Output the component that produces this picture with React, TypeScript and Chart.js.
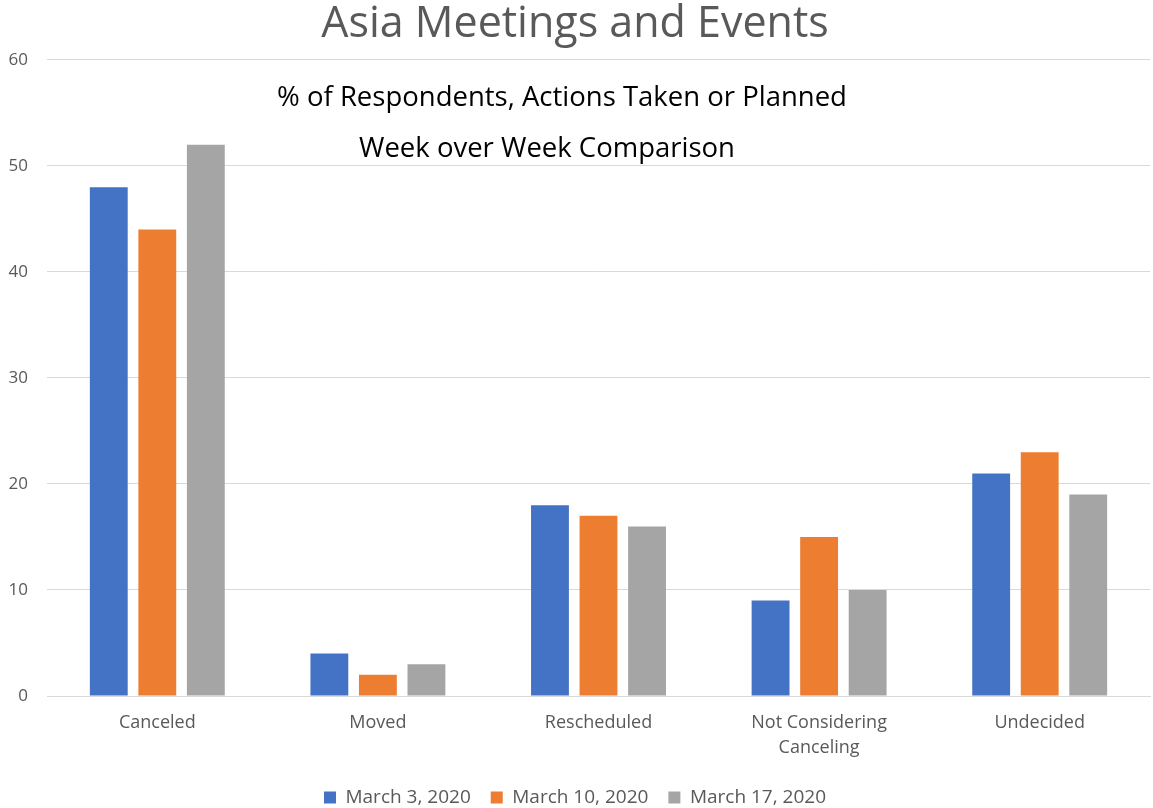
import React, { useEffect, useRef } from "react";
import { Chart, registerables } from "chart.js";

Chart.register(...registerables);

const categories: (string | string[])[] = [
  "Canceled",
  "Moved",
  "Rescheduled",
  ["Not Considering", "Canceling"],
  "Undecided",
];
const march3 = [48, 4, 18, 9, 21];
const march10 = [44, 2, 17, 15, 23];
const march17 = [52, 3, 16, 10, 19];
const seriesNames = ["March 3, 2020", "March 10, 2020", "March 17, 2020"];
const seriesColors = ["#4472C4", "#ED7D31", "#A5A5A5"];
const titleText = "Asia Meetings and Events";
const annotations = [
  "% of Respondents, Actions Taken or Planned",
  "Week over Week Comparison",
];

const FONT = "'Open Sans', Lato, sans-serif";

const annotationPlugin = {
  id: "annotText",
  afterDraw(chart: any) {
    const ctx = chart.ctx;
    ctx.save();
    ctx.fillStyle = "#000000";
    ctx.font = `27.5px ${FONT}`;
    ctx.textAlign = "center";
    ctx.textBaseline = "middle";
    ctx.fillText(annotations[0], 562, 98);
    ctx.fillText(annotations[1], 547, 149);
    ctx.restore();
  },
};

export default function App() {
  const ref = useRef<HTMLCanvasElement | null>(null);
  useEffect(() => {
    if (!ref.current) return;
    const data = [march3, march10, march17];
    const chart = new Chart(ref.current, {
      type: "bar",
      data: {
        labels: categories as any,
        datasets: data.map((d, i) => ({
          label: seriesNames[i],
          data: d,
          backgroundColor: seriesColors[i],
          borderWidth: 0,
          categoryPercentage: 0.66,
          barPercentage: 0.78,
        })),
      },
      plugins: [annotationPlugin],
      options: {
        responsive: false,
        animation: false,
        layout: { padding: { left: 0, right: 3, top: 0, bottom: -9 } },
        plugins: {
          title: {
            display: true,
            text: titleText,
            color: "#595959",
            font: { family: FONT, size: 43, weight: "normal", lineHeight: 1.15 },
            padding: { top: 0, bottom: 10.5 },
            align: "center",
          },
          legend: {
            position: "bottom",
            labels: {
              color: "#595959",
              font: { family: FONT, size: 19 },
              boxWidth: 12,
              boxHeight: 12,
              padding: 20,
            },
          },
          tooltip: { enabled: false },
        },
        scales: {
          x: {
            grid: { display: false, drawTicks: false },
            border: { display: true, color: "#D9D9D9" },
            ticks: {
              color: "#595959",
              font: { family: FONT, size: 18, lineHeight: 1.4 },
              padding: 14,
              maxRotation: 0,
              autoSkip: false,
            },
            afterFit(scale: any) {
              scale.height = 72;
            },
          },
          y: {
            min: 0,
            max: 60,
            grid: { color: "#D9D9D9", drawTicks: false },
            border: { display: false },
            ticks: {
              stepSize: 10,
              color: "#595959",
              font: { family: FONT, size: 17 },
              padding: 19,
            },
            afterFit(scale: any) {
              scale.width = 47;
            },
          },
        },
      },
    });
    return () => chart.destroy();
  }, []);
  return (
    <div style={{ position: "absolute", left: 0, top: 0, width: 1153, height: 808, background: "#fff" }}>
      <canvas ref={ref} width={1153} height={808} />
    </div>
  );
}
